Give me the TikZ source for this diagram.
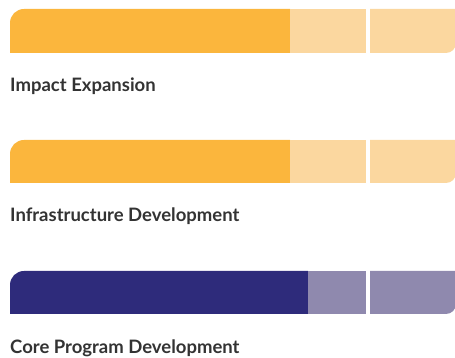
\documentclass[tikz,border=0pt]{standalone}
\usepackage{fontspec}
\setmainfont{Lato}
\definecolor{orangeD}{HTML}{FBB63D}
\definecolor{orangeL}{HTML}{FBD79F}
\definecolor{navyD}{HTML}{2E2B7B}
\definecolor{navyL}{HTML}{8F89AE}
\definecolor{txt}{HTML}{333333}
\tikzset{lbl/.style={anchor=base west,inner sep=0pt,text=txt,font=\fontsize{18.5}{20}\selectfont\bfseries}}
\newcommand{\mybar}[5]{% #1 bottom y, #2 top y, #3 split x, #4 dark colour, #5 light colour
  \fill[#4] (10,#1) -- (10,#2-14) arc (180:90:14) -- (#3,#2) -- (#3,#1) -- cycle;
  \fill[#5] (#3,#1) rectangle (366,#2);
  \fill[#5] (370,#1) -- (370,#2) -- (456,#2) -- (456,#1+10) arc (0:-90:10) -- cycle;
}
\begin{document}
\begin{tikzpicture}[x=1pt,y=1pt]
\useasboundingbox (0,0) rectangle (455,358);
\mybar{305}{349}{290}{orangeD}{orangeL}
\mybar{175}{218}{290}{orangeD}{orangeL}
\mybar{44}{87}{308}{navyD}{navyL}
\node[lbl] (t1) at (10,266) {Impact Expansion};
\node[lbl] (t2) at (10,136) {Infrastructure Development};
\node[lbl] (t3) at (10,4.3) {Core Program Development};
\end{tikzpicture}
\end{document}
